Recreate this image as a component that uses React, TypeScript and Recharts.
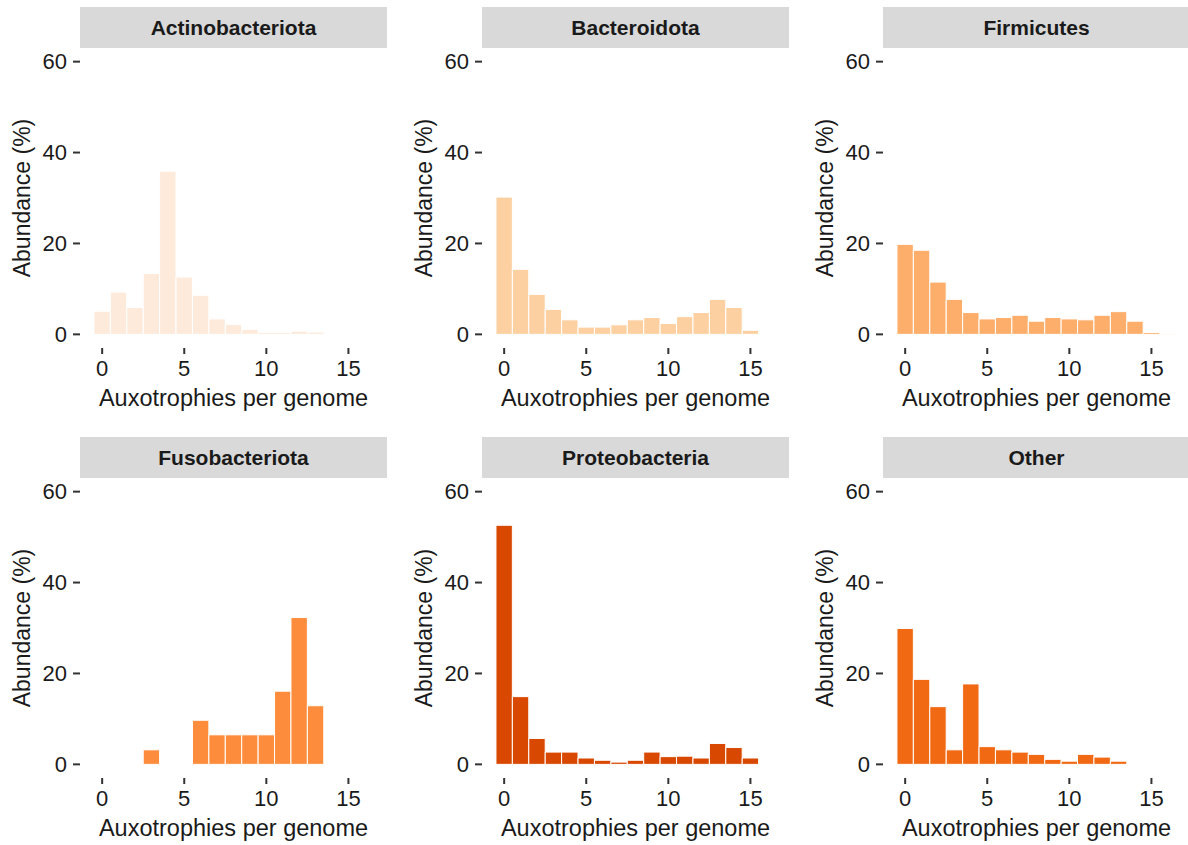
import React from 'react';
import { BarChart, Bar, XAxis, YAxis } from 'recharts';

// number of auxotrophies per genome (histogram bins)
const auxotrophies = [0, 1, 2, 3, 4, 5, 6, 7, 8, 9, 10, 11, 12, 13, 14, 15, 16];

// abundance (%) per bin, null = no genomes in that bin
const actinobacteriota = [5.1, 9.3, 5.9, 13.4, 35.9, 12.6, 8.6, 3.4, 2.2, 1.1, 0.4, 0.4, 0.7, 0.5, null, null, null];
const bacteroidota = [30.2, 14.3, 8.8, 5.5, 3.2, 1.6, 1.6, 2.1, 3.2, 3.7, 2.4, 3.9, 4.8, 7.7, 5.9, 0.9, null];
const firmicutes = [19.8, 18.5, 11.5, 7.7, 4.8, 3.4, 3.7, 4.2, 2.9, 3.7, 3.4, 3.2, 4.2, 5.0, 2.9, 0.4, 0.2];
const fusobacteriota = [null, null, null, 3.2, null, null, 9.7, 6.5, 6.5, 6.5, 6.5, 16.1, 32.3, 12.9, null, null, null];
const proteobacteria = [52.6, 14.9, 5.7, 2.7, 2.7, 1.4, 0.9, 0.5, 0.9, 2.7, 1.7, 1.8, 1.4, 4.6, 3.7, 1.4, null];
const other = [29.9, 18.7, 12.7, 3.2, 17.7, 3.9, 3.2, 2.7, 2.2, 1.1, 0.7, 2.2, 1.6, 0.7, null, null, null];

const xTicks = [0, 5, 10, 15];
const yTicks = [0, 20, 40, 60];

const FONT = '"Liberation Sans", Arial, Helvetica, sans-serif';
const PLOT_W = 307;
const PLOT_H = 300;
const AXIS_W = 80;
const XAXIS_H = 70;
const STRIP_H = 41;

type Panel = { name: string; values: (number | null)[]; color: string; left: number; top: number };

const panels: Panel[] = [
  { name: 'Actinobacteriota', values: actinobacteriota, color: '#FDEADB', left: 80, top: 7 },
  { name: 'Bacteroidota', values: bacteroidota, color: '#FDD0A2', left: 482, top: 7 },
  { name: 'Firmicutes', values: firmicutes, color: '#FDAE6B', left: 883, top: 7 },
  { name: 'Fusobacteriota', values: fusobacteriota, color: '#FD8D3C', left: 80, top: 437 },
  { name: 'Proteobacteria', values: proteobacteria, color: '#D94801', left: 482, top: 437 },
  { name: 'Other', values: other, color: '#F16913', left: 883, top: 437 },
];

const tickStyle = { fontSize: 22, fill: '#1a1a1a', fontFamily: FONT };

const FacetPanel: React.FC<{ panel: Panel }> = ({ panel }) => {
  const data = auxotrophies
    .map((x, i) => ({ x, pct: panel.values[i] }))
    .filter(d => d.pct !== null);

  return (
    <>
      <div
        style={{
          position: 'absolute',
          left: panel.left,
          top: panel.top,
          width: PLOT_W,
          height: STRIP_H,
          background: '#D9D9D9',
          display: 'flex',
          alignItems: 'center',
          justifyContent: 'center',
          fontFamily: FONT,
          fontWeight: 'bold',
          fontSize: 21,
          color: '#1a1a1a',
        }}
      >
        {panel.name}
      </div>
      <div style={{ position: 'absolute', left: panel.left - AXIS_W, top: panel.top + STRIP_H }}>
        <BarChart
          width={AXIS_W + PLOT_W}
          height={PLOT_H + XAXIS_H}
          data={data}
          margin={{ top: 0, right: 0, bottom: 0, left: 0 }}
        >
          <XAxis
            dataKey="x"
            type="number"
            domain={[-1.35, 17.35]}
            allowDataOverflow
            ticks={xTicks}
            interval={0}
            height={XAXIS_H}
            axisLine={false}
            tickSize={6}
            tickMargin={6}
            tickLine={{ stroke: '#333333', strokeWidth: 2 }}
            tick={tickStyle}
            label={{
              value: 'Auxotrophies per genome',
              position: 'insideBottom',
              offset: 12,
              style: { fontSize: 23.5, fill: '#1a1a1a', fontFamily: FONT },
            }}
          />
          <YAxis
            type="number"
            domain={[-3, 63]}
            allowDataOverflow
            ticks={yTicks}
            interval={0}
            width={AXIS_W}
            axisLine={false}
            tickSize={7}
            tickMargin={6}
            tickLine={{ stroke: '#333333', strokeWidth: 2 }}
            tick={tickStyle}
            label={{
              value: 'Abundance (%)',
              angle: -90,
              position: 'insideLeft',
              offset: 22,
              style: { textAnchor: 'middle', fontSize: 23, fill: '#1a1a1a', fontFamily: FONT },
            }}
          />
          <Bar
            dataKey="pct"
            fill={panel.color}
            stroke="#ffffff"
            strokeWidth={1}
            barSize={16.4}
            isAnimationActive={false}
          />
        </BarChart>
      </div>
    </>
  );
};

const App: React.FC = () => {
  return (
    <div
      style={{
        position: 'absolute',
        left: 0,
        top: 0,
        width: 1188,
        height: 845,
        background: '#ffffff',
        overflow: 'hidden',
      }}
    >
      {panels.map(p => (
        <FacetPanel key={p.name} panel={p} />
      ))}
    </div>
  );
};

export default App;
